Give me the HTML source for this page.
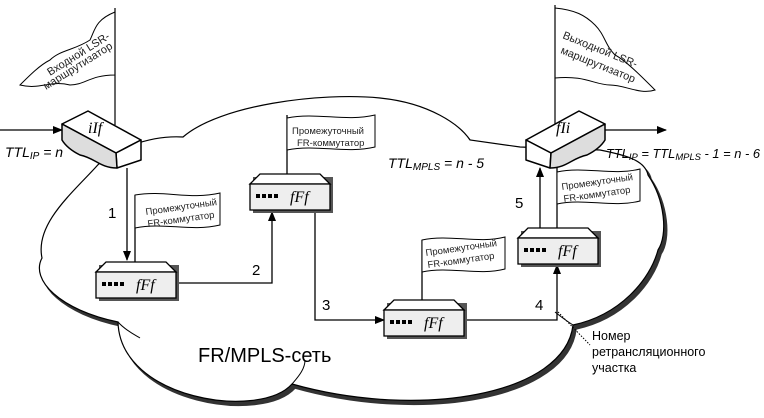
<!DOCTYPE html>
<html><head><meta charset="utf-8"><style>
body{margin:0;background:#fff}
svg{display:block}
text{font-family:"Liberation Sans","DejaVu Sans",sans-serif}
.i{font-family:"Liberation Serif",serif;font-style:italic;font-size:16px}
</style></head><body>
<svg width="764" height="418" viewBox="0 0 764 418" xmlns="http://www.w3.org/2000/svg">
<defs>
<marker id="a" markerWidth="10" markerHeight="8" refX="9" refY="4" orient="auto" markerUnits="userSpaceOnUse"><path d="M0,0L10,4L0,8z" fill="#000"/></marker>
<path id="cl" d="M183,137 C220,105 320,92 380,98 C430,103 460,125 470,140 L520,147 L600,150 C625,155 645,160 648,175 C665,200 668,235 658,250 C650,280 620,315 573,325 C565,395 420,420 292,384 C260,420 120,400 118,322 C60,310 30,280 42,258 C35,225 70,195 95,168 C110,150 150,135 183,137 Z"/>
</defs>
<use href="#cl" transform="translate(3,4)" fill="#333" stroke="#333" stroke-width="1.5"/>
<use href="#cl" fill="#fff" stroke="#000" stroke-width="1.2"/>
<path d="M118,322 C125,330 135,335 140,338 M292,384 C300,375 305,368 305,360 M573,325 C565,320 560,316 555,312" stroke="#000" fill="none"/>
<!-- ingress flag -->
<path d="M115,12 C95,20 95,30 90,40 C75,50 60,50 50,60 C40,65 30,75 20,85 C40,90 50,80 70,85 C85,85 90,75 115,75 Z" fill="#fff" stroke="#000"/>
<line x1="115" y1="8" x2="115" y2="125" stroke="#000" stroke-width="1.2"/>
<text transform="translate(50,76) rotate(-32)" font-size="11" fill="#222">Входной LSR-</text>
<text transform="translate(46,90) rotate(-32)" font-size="11" fill="#222">маршрутизатор</text>
<!-- egress flag -->
<path d="M555,8 C575,10 585,15 595,25 C605,35 605,45 615,55 C625,60 640,75 655,90 C640,95 625,85 610,85 C595,85 585,75 555,78 Z" fill="#fff" stroke="#000"/>
<line x1="555" y1="5" x2="555" y2="125" stroke="#000" stroke-width="1.2"/>
<text transform="translate(562,38) rotate(22)" font-size="11" fill="#222">Выходной LSR-</text>
<text transform="translate(560,53) rotate(22)" font-size="11" fill="#222">маршрутизатор</text>
<!-- arrows -->
<g stroke="#000" stroke-width="1.3" fill="none">
<line x1="0" y1="130" x2="62" y2="130" marker-end="url(#a)"/>
<line x1="605" y1="130" x2="666" y2="130" marker-end="url(#a)"/>
<line x1="127" y1="168" x2="127" y2="260" marker-end="url(#a)"/>
<polyline points="175,283 272,283 272,212" marker-end="url(#a)"/>
<polyline points="315,210 315,320 384,320" marker-end="url(#a)"/>
<polyline points="463,320 557,320 557,265" marker-end="url(#a)"/>
<line x1="540" y1="228" x2="540" y2="168" marker-end="url(#a)"/>
<line x1="135" y1="262" x2="135" y2="195"/>
<line x1="287" y1="178" x2="287" y2="115"/>
<line x1="422" y1="300" x2="422" y2="240"/>
<line x1="557" y1="228" x2="557" y2="160"/>
</g>
<line x1="558" y1="312" x2="590" y2="345" stroke="#000" stroke-dasharray="1.5,1.5"/>
<!-- small flags -->
<g fill="#fff" stroke="#000">
<path d="M135,195 C165,190 190,200 220,193 L220,225 C190,232 165,222 135,228 Z"/>
<path d="M287,118 C317,112 345,122 375,115 L375,147 C345,154 317,144 287,150 Z"/>
<path d="M422,240 C450,234 478,244 505,237 L505,269 C478,276 450,266 422,272 Z"/>
<path d="M557,172 C585,166 612,176 640,169 L640,201 C612,208 585,198 557,204 Z"/>
</g>
<g font-size="9.5" fill="#222">
<text transform="translate(146,215) rotate(-8)">Промежуточный</text>
<text transform="translate(148,227) rotate(-8)">FR-коммутатор</text>
<text x="292" y="134">Промежуточный</text>
<text x="297" y="146">FR-коммутатор</text>
<text transform="translate(426,256) rotate(-8)">Промежуточный</text>
<text transform="translate(428,268) rotate(-8)">FR-коммутатор</text>
<text transform="translate(562,190) rotate(-8)">Промежуточный</text>
<text transform="translate(564,202) rotate(-8)">FR-коммутатор</text>
</g>
<!-- switches -->
<g stroke="#000" stroke-width="1.3">
<g transform="translate(96,262)">
<rect x="3" y="3" width="80" height="36" fill="#555" stroke="none"/>
<path d="M0,10 L10,0 L70,0 L80,10 Z" fill="#fff"/>
<rect x="0" y="10" width="80" height="26" fill="#eee"/>
</g>
<g transform="translate(250,174)">
<rect x="3" y="3" width="80" height="36" fill="#555" stroke="none"/>
<path d="M0,10 L10,0 L70,0 L80,10 Z" fill="#fff"/>
<rect x="0" y="10" width="80" height="26" fill="#eee"/>
</g>
<g transform="translate(384,300)">
<rect x="3" y="3" width="80" height="36" fill="#555" stroke="none"/>
<path d="M0,10 L10,0 L70,0 L80,10 Z" fill="#fff"/>
<rect x="0" y="10" width="80" height="26" fill="#eee"/>
</g>
<g transform="translate(518,228)">
<rect x="3" y="3" width="80" height="36" fill="#555" stroke="none"/>
<path d="M0,10 L10,0 L70,0 L80,10 Z" fill="#fff"/>
<rect x="0" y="10" width="80" height="26" fill="#eee"/>
</g>
</g>
<g fill="#000">
<rect x="102" y="282" width="4" height="4"/><rect x="108" y="282" width="4" height="4"/><rect x="114" y="282" width="4" height="4"/><rect x="120" y="282" width="4" height="4"/>
<rect x="256" y="194" width="4" height="4"/><rect x="262" y="194" width="4" height="4"/><rect x="268" y="194" width="4" height="4"/><rect x="274" y="194" width="4" height="4"/>
<rect x="390" y="320" width="4" height="4"/><rect x="396" y="320" width="4" height="4"/><rect x="402" y="320" width="4" height="4"/><rect x="408" y="320" width="4" height="4"/>
<rect x="524" y="248" width="4" height="4"/><rect x="530" y="248" width="4" height="4"/><rect x="536" y="248" width="4" height="4"/><rect x="542" y="248" width="4" height="4"/>
</g>
<text class="i" x="136" y="290">fFf</text>
<text class="i" x="290" y="202">fFf</text>
<text class="i" x="424" y="328">fFf</text>
<text class="i" x="558" y="256">fFf</text>
<!-- routers -->
<g stroke="#000" stroke-width="1.5" stroke-linejoin="round">
<path d="M62,124 L88,111 L141,140 L116,153 Z" fill="#fff"/>
<path d="M116,153 L141,140 L141,160 L117,168 Z" fill="#fff"/>
<path d="M62,124 L116,153 L117,168 C100,168 95,158 80,155 C70,150 65,145 62,140 Z" fill="#ddd"/>
<path d="M605,124 L579,111 L526,140 L551,153 Z" fill="#fff"/>
<path d="M551,153 L526,140 L526,160 L550,168 Z" fill="#fff"/>
<path d="M605,124 L551,153 L550,168 C567,168 572,158 587,155 C597,150 602,145 605,140 Z" fill="#ddd"/>
</g>
<text class="i" x="88" y="133" font-size="17">iIf</text>
<text class="i" x="556" y="133" font-size="17">fIi</text>
<!-- labels -->
<g font-style="italic" font-size="14" fill="#000">
<text x="5" y="157">TTL<tspan font-size="10" dy="2">IP</tspan><tspan dy="-2"> = n</tspan></text>
<text x="388" y="168">TTL<tspan font-size="10" dy="2">MPLS</tspan><tspan dy="-2"> = n - 5</tspan></text>
<text x="606" y="158" font-size="13" textLength="154" lengthAdjust="spacingAndGlyphs">TTL<tspan font-size="9.5" dy="2">IP</tspan><tspan dy="-2"> = TTL</tspan><tspan font-size="9.5" dy="2">MPLS</tspan><tspan dy="-2"> - 1 = n - 6</tspan></text>
</g>
<g font-size="15" fill="#000">
<text x="108" y="218">1</text>
<text x="252" y="275">2</text>
<text x="322" y="310">3</text>
<text x="535" y="310">4</text>
<text x="515" y="208">5</text>
</g>
<text x="198" y="362" font-size="20">FR/MPLS-сеть</text>
<g font-size="12.5" fill="#000">
<text x="592" y="340">Номер</text>
<text x="592" y="356">ретрансляционного</text>
<text x="592" y="372">участка</text>
</g>
</svg>
</body></html>
